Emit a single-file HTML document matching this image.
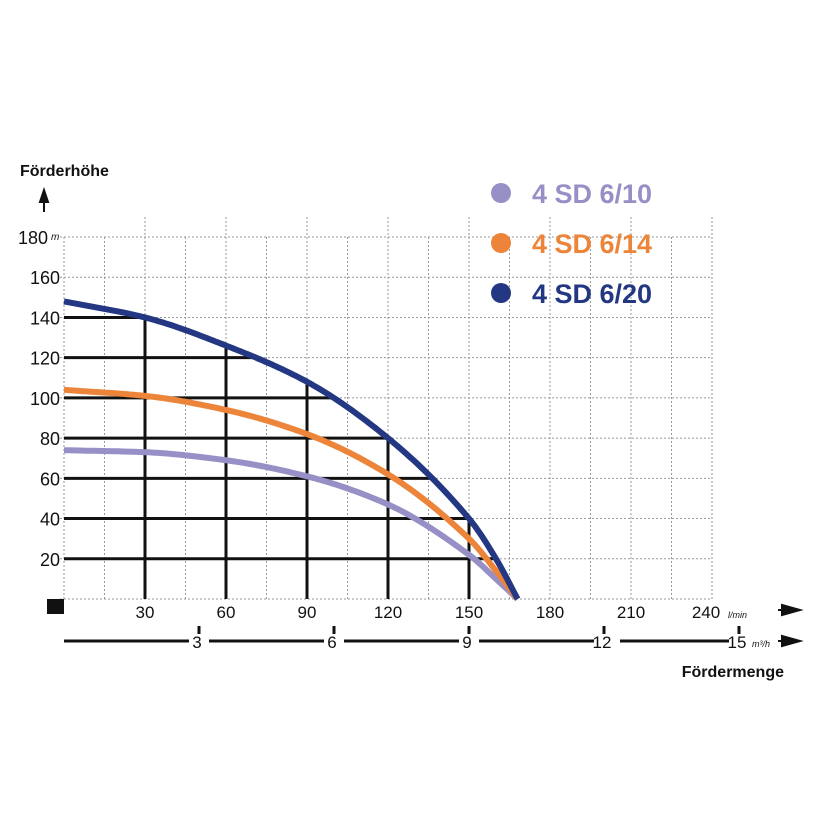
<!DOCTYPE html>
<html><head><meta charset="utf-8"><style>
body{margin:0;background:#fff;width:814px;height:814px;overflow:hidden}
svg{font-family:"Liberation Sans",sans-serif}
</style></head><body>
<svg id="c" width="814" height="814"></svg>
<script>
const flowTicks=[30,60,90,120,150,180,210,240];
const m3Ticks=[3,6,9,12,15];
const headTicks=[20,40,60,80,100,120,140,160,180];
const flows=[0,30,60,90,120,150,160,168];
const s610=[74,73,69,61,47,22,10,0];
const s614=[104,101,94,82,62,30,14,0];
const s620=[148,140,126,108,80,40,20,0];
const seriesNames=["4 SD 6/10","4 SD 6/14","4 SD 6/20"];
const seriesColors=["#9690c6","#ec853a","#233783"];
const svg=document.getElementById('c');
const NS='http://www.w3.org/2000/svg';
const X=v=>64+v*(648/240);
const Y=v=>599-v*(362/180);
function el(t,a,p){const e=document.createElementNS(NS,t);for(const k in a)e.setAttribute(k,a[k]);(p||svg).appendChild(e);return e;}
function tx(x,y,s,o,name){const e=el('text',Object.assign({x:x,y:y},o));e.textContent=s;

return e;}
// monotone cubic interpolation
function mono(arr,f){
const n=flows.length;const d=[],m=[];
for(let i=0;i<n-1;i++)d.push((arr[i+1]-arr[i])/(flows[i+1]-flows[i]));
m[0]=d[0];m[n-1]=d[n-2];
for(let i=1;i<n-1;i++){m[i]=(d[i-1]*d[i]<=0)?0:2/(1/d[i-1]+1/d[i]);}
let i=0;while(i<n-2&&f>flows[i+1])i++;
const h=flows[i+1]-flows[i],t=(f-flows[i])/h;
const h00=2*t*t*t-3*t*t+1,h10=t*t*t-2*t*t+t,h01=-2*t*t*t+3*t*t,h11=t*t*t-t*t;
return h00*arr[i]+h10*h*m[i]+h01*arr[i+1]+h11*h*m[i+1];}
function flowAt(arr,hv){let lo=0,hi=168;for(let k=0;k<40;k++){const mid=(lo+hi)/2;if(mono(arr,mid)>hv)lo=mid;else hi=mid;}return lo;}
// dotted grid
for(let f=15;f<=240;f+=15){const l=el('line',{x1:X(f),x2:X(f),y1:(f%30==0?217:Y(180)),y2:Y(0),stroke:'#999','stroke-dasharray':'2,2','stroke-width':1});

}
el('line',{x1:X(0),x2:X(0),y1:Y(180),y2:Y(0),stroke:'#999','stroke-dasharray':'2,2'});
for(let h=0;h<=180;h+=20){const l=el('line',{x1:X(0)-4,x2:X(240),y1:Y(h),y2:Y(h),stroke:'#999','stroke-dasharray':'2,2'});

}
// solid black grid under top curve
for(let h=20;h<=140;h+=20){const l=el('line',{x1:X(0),x2:X(flowAt(s620,h)),y1:Y(h),y2:Y(h),stroke:'#111','stroke-width':3});

}
for(let f=30;f<=150;f+=30){const l=el('line',{x1:X(f),x2:X(f),y1:Y(mono(s620,f)),y2:Y(0),stroke:'#111','stroke-width':3});

}
// curves
[s610,s614,s620].forEach((s,i)=>{let d='';
for(let f=0;f<=168;f+=1){const v=mono(s,f);d+=(f?'L':'M')+X(f).toFixed(1)+','+Y(v).toFixed(1);}
const p=el('path',{d:d,fill:'none',stroke:seriesColors[i],'stroke-width':6,'stroke-linejoin':'round'});

});
// y labels
headTicks.forEach(h=>tx(60-(h==180?12:0),Y(h)+7,h,{'font-size':18,'text-anchor':'end',fill:'#111'},'y-tick-label'));
tx(51,Y(180)+3,'m',{'font-size':10,'font-style':'italic',fill:'#111'},'y-unit');
tx(20,176,'Förderhöhe',{'font-size':16,'font-weight':'bold',fill:'#111'},'y-axis-title');
el('path',{d:'M44,212 L44,200 M40,202 L44,190 L48,202 Z',stroke:'#111','stroke-width':2,fill:'#111'});
// x labels
const sq=el('rect',{x:47,y:599,width:17,height:15,fill:'#111'});


flowTicks.forEach(f=>tx(X(f)-(f==240?6:0),618,f,{'font-size':17,'text-anchor':'middle',fill:'#111'},'x-tick-label'));
tx(728,618,'l/min',{'font-size':9,'font-style':'italic',fill:'#111'},'x-unit-lmin');
el('path',{d:'M778,610 L800,610 M782,605 L800,610 L782,615 Z',stroke:'#111','stroke-width':2,fill:'#111'});
// m3/h axis
const xm=v=>X(v*1000/60);
let prev=64;
m3Ticks.forEach(v=>{const x=xm(v);el('line',{x1:prev,x2:x-10,y1:641,y2:641,stroke:'#111','stroke-width':3});
el('line',{x1:x,x2:x,y1:626,y2:634,stroke:'#111','stroke-width':3});
tx(x-2,648,v,{'font-size':17,'text-anchor':'middle',fill:'#111'},'m3h-tick-label');prev=x+(v>=10?16:10);});
tx(752,647,'m³/h',{'font-size':9,'font-style':'italic',fill:'#111'},'x-unit-m3h');
el('path',{d:'M778,641 L800,641 M782,636 L800,641 L782,646 Z',stroke:'#111','stroke-width':2,fill:'#111'});
tx(784,677,'Fördermenge',{'font-size':16,'font-weight':'bold','text-anchor':'end',fill:'#111'},'x-axis-title');
// legend
seriesNames.forEach((n,i)=>{const y=193+i*50;
const c=el('circle',{cx:501,cy:y,r:10,fill:seriesColors[i]});


tx(532,y+10,n,{'font-size':27,'font-weight':'bold',fill:seriesColors[i]},'legend-entry');});
</script>
</body></html>
